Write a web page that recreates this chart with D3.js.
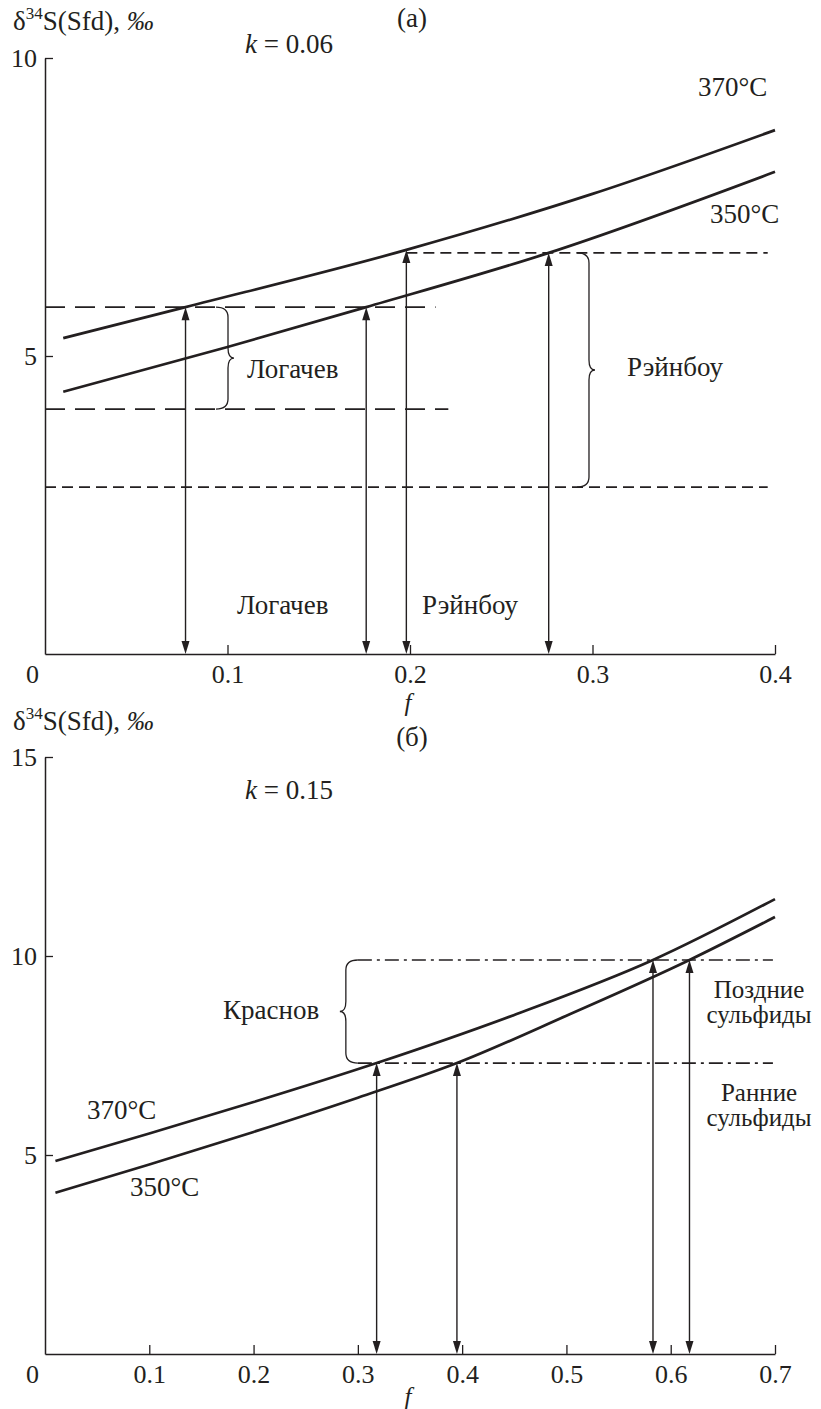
<!DOCTYPE html>
<html>
<head>
<meta charset="utf-8">
<script src="https://cdn.jsdelivr.net/npm/d3@7"></script>
<style>
  html, body { margin: 0; padding: 0; background: #fff; }
  svg { display: block; }
  text { font-family: "Liberation Serif", "Times New Roman", "DejaVu Serif", serif; fill: #231f20; }
</style>
</head>
<body>
<svg id="chart" width="821" height="1409"></svg>
<script>
// ---- Panel (а): k = 0.06 ----
const fTicksA = [0, 0.1, 0.2, 0.3, 0.4];
const vTicksA = [5, 10];
// δ34S of sulfide vs f, two temperatures
const curveA370 = [[0.01, 5.30], [0.077, 5.82], [0.198, 6.78], [0.3, 7.72], [0.4, 8.79]];
const curveA350 = [[0.01, 4.40], [0.1, 5.15], [0.176, 5.82], [0.276, 6.73], [0.4, 8.09]];
// measured ranges: [value, f start, f end]
const logachevLevels = [[5.82, 0, 0.214], [4.11, 0, 0.221]];
const rainbowLevels = [[6.73, 0.198, 0.396], [2.80, 0, 0.396]];
// f where each measured bound meets a curve
const arrowsA = [[0.077, 5.82], [0.176, 5.82], [0.198, 6.78], [0.276, 6.73]];

// ---- Panel (б): k = 0.15 ----
const fTicksB = [0, 0.1, 0.2, 0.3, 0.4, 0.5, 0.6, 0.7];
const vTicksB = [5, 10, 15];
const curveB370 = [[0.01, 4.85], [0.1, 5.54], [0.2, 6.33], [0.318, 7.31], [0.45, 8.52], [0.583, 9.90], [0.7, 11.43]];
const curveB350 = [[0.01, 4.05], [0.1, 4.76], [0.2, 5.58], [0.3, 6.44], [0.395, 7.31], [0.5, 8.50], [0.618, 9.90], [0.7, 10.98]];
const krasnovLevels = [[9.90, 0.300, 0.698], [7.31, 0.300, 0.698]];
const arrowsB = [[0.318, 7.31], [0.395, 7.31], [0.583, 9.90], [0.618, 9.90]];

const svg = d3.select("#chart");
const FS = 27;      // labels
const FT = 26;      // tick labels
const ink = "#231f20";

function yLabel(g, x, y) {
  const t = g.append("text").attr("x", x).attr("y", y).attr("font-size", FS);
  t.append("tspan").text("δ");
  t.append("tspan").attr("font-size", 17).attr("dy", -11).text("34");
  t.append("tspan").attr("dy", 11).text("S(Sfd), ");
  t.append("tspan").attr("font-style", "italic").text("‰");
}

function kLabel(g, x, y, k) {
  const t = g.append("text").attr("x", x).attr("y", y).attr("font-size", FS);
  t.append("tspan").attr("font-style", "italic").text("k");
  t.append("tspan").text(" = " + k);
}

function drawAxes(g, x, y, fTicks, vTicks, fOffset) {
  const fmt = d => d === 0 ? "0" : d3.format(".1f")(d);
  const ax = g.append("g").attr("transform", `translate(0,${y(0)})`)
    .call(d3.axisBottom(x).tickValues(fTicks).tickFormat(fmt).tickSizeInner(-9).tickSizeOuter(0).tickPadding(11));
  ax.attr("font-family", null);
  ax.select(".domain").attr("stroke", ink).attr("stroke-width", 1.5);
  ax.selectAll(".tick line").attr("stroke", ink).attr("stroke-width", 1.3);
  ax.selectAll(".tick text").attr("font-size", FT).attr("fill", ink)
    .attr("dx", d => d === 0 ? -13 : 0);
  ax.selectAll(".tick").filter(d => d === 0).select("line").remove();

  const ay = g.append("g").attr("transform", `translate(${x(0)},0)`)
    .call(d3.axisLeft(y).tickValues(vTicks).tickSizeInner(-8).tickSizeOuter(0).tickPadding(8));
  ay.attr("font-family", null);
  ay.select(".domain").attr("stroke", ink).attr("stroke-width", 1.5);
  ay.selectAll(".tick line").attr("stroke", ink).attr("stroke-width", 1.3);
  ay.selectAll(".tick text").attr("font-size", FT).attr("fill", ink);

  g.append("text").attr("x", 408).attr("y", y(0) + fOffset).attr("text-anchor", "middle")
    .attr("font-size", 25).attr("font-style", "italic").text("f");
}

function drawCurve(g, x, y, pts) {
  g.append("path").datum(pts)
    .attr("fill", "none").attr("stroke", ink).attr("stroke-width", 2.7)
    .attr("d", d3.line().x(d => x(d[0])).y(d => y(d[1])).curve(d3.curveMonotoneX));
}

function drawLevels(g, x, y, levels, dash, width) {
  g.selectAll(null).data(levels).join("line")
    .attr("x1", d => x(d[1])).attr("x2", d => x(d[2]))
    .attr("y1", d => y(d[0])).attr("y2", d => y(d[0]))
    .attr("stroke", ink).attr("stroke-width", width).attr("stroke-dasharray", dash);
}

function drawArrows(g, x, y, arrows) {
  const head = (px, py, dir) => `M${px},${py} L${px - 4},${py + dir * 13} L${px + 4},${py + dir * 13} Z`;
  arrows.forEach(([f, v]) => {
    const px = x(f), top = y(v), bot = y(0);
    g.append("line").attr("x1", px).attr("x2", px).attr("y1", top + 6).attr("y2", bot - 6)
      .attr("stroke", ink).attr("stroke-width", 1.4);
    g.append("path").attr("d", head(px, top, 1)).attr("fill", ink);
    g.append("path").attr("d", head(px, bot, -1)).attr("fill", ink);
  });
}

// curly brace between y0 and y1; dir = 1 draws "}", dir = -1 draws "{"
function drawBrace(g, px, y0, y1, dir) {
  const s = 12 * dir, w = 18 * dir, r = 10, ym = (y0 + y1) / 2;
  const p = `M${px},${y0} Q${px + s},${y0} ${px + s},${y0 + r} L${px + s},${ym - r}
    Q${px + s},${ym} ${px + w},${ym} Q${px + s},${ym} ${px + s},${ym + r}
    L${px + s},${y1 - r} Q${px + s},${y1} ${px},${y1}`;
  g.append("path").attr("d", p).attr("fill", "none").attr("stroke", ink).attr("stroke-width", 1.3);
}

function text(g, x, y, s, anchor, size) {
  g.append("text").attr("x", x).attr("y", y).attr("font-size", size || FS)
    .attr("text-anchor", anchor || "start").text(s);
}

// ---------- panel (а) ----------
{
  const g = svg.append("g");
  const x = d3.scaleLinear().domain([0, 0.4]).range([45, 775]);
  const y = d3.scaleLinear().domain([0, 10]).range([654, 58]);
  yLabel(g, 13, 30);
  text(g, 412, 27, "(а)", "middle");
  kLabel(g, 245, 53, "0.06");
  drawAxes(g, x, y, fTicksA, vTicksA, 57);
  drawLevels(g, x, y, logachevLevels, "20,10", 1.7);
  drawLevels(g, x, y, rainbowLevels, "11,6", 1.7);
  drawCurve(g, x, y, curveA370);
  drawCurve(g, x, y, curveA350);
  drawArrows(g, x, y, arrowsA);
  drawBrace(g, x(0.0937), y(logachevLevels[0][0]), y(logachevLevels[1][0]), 1);
  drawBrace(g, x(0.2915), y(rainbowLevels[0][0]), y(rainbowLevels[1][0]), 1);
  text(g, 247, 378, "Логачев");
  text(g, 627, 376, "Рэйнбоу");
  text(g, 237, 614, "Логачев");
  text(g, 422, 614, "Рэйнбоу");
  text(g, 698, 96, "370°C");
  text(g, 710, 223, "350°C");
}

// ---------- panel (б) ----------
{
  const g = svg.append("g");
  const x = d3.scaleLinear().domain([0, 0.7]).range([45, 775]);
  const y = d3.scaleLinear().domain([0, 15]).range([1354, 757]);
  yLabel(g, 13, 730);
  text(g, 412, 746, "(б)", "middle");
  kLabel(g, 245, 799, "0.15");
  drawAxes(g, x, y, fTicksB, vTicksB, 51);
  drawLevels(g, x, y, krasnovLevels, "14,5,3,5", 1.7);
  drawCurve(g, x, y, curveB370);
  drawCurve(g, x, y, curveB350);
  drawArrows(g, x, y, arrowsB);
  drawBrace(g, x(0.300), y(krasnovLevels[0][0]), y(krasnovLevels[1][0]), -1);
  text(g, 223, 1019, "Краснов");
  text(g, 759, 998, "Поздние", "middle", 25);
  text(g, 759, 1023, "сульфиды", "middle", 25);
  text(g, 759, 1101, "Ранние", "middle", 25);
  text(g, 759, 1126, "сульфиды", "middle", 25);
  text(g, 87, 1119, "370°C");
  text(g, 130, 1196, "350°C");
}
</script>
</body>
</html>
